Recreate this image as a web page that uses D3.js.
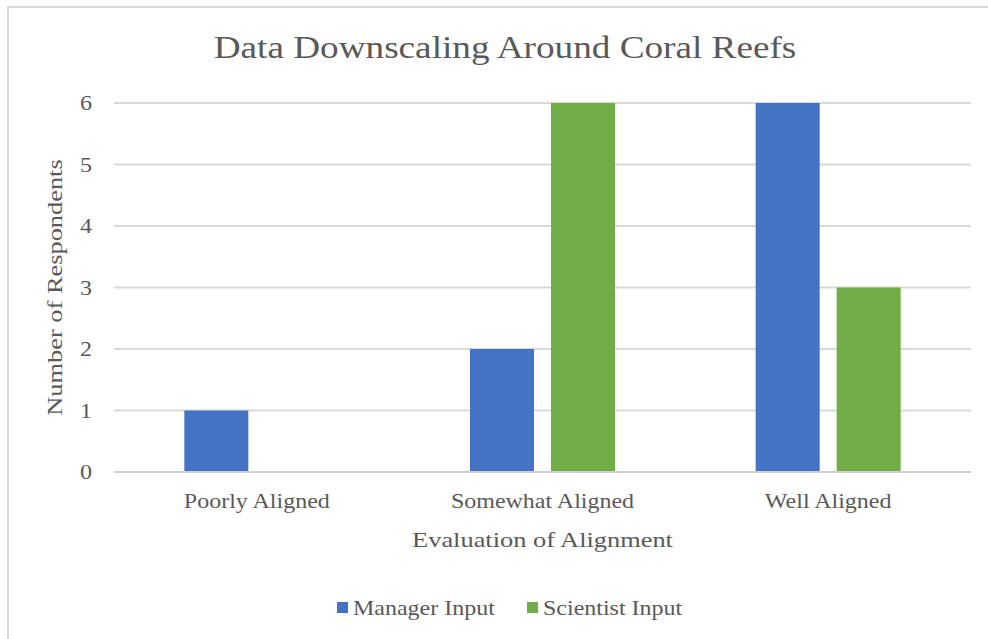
<!DOCTYPE html>
<html>
<head>
<meta charset="utf-8">
<script src="https://cdn.jsdelivr.net/npm/d3@7/dist/d3.min.js"></script>
<style>
  html, body { margin: 0; padding: 0; background: #ffffff; overflow: hidden; }
  svg { display: block; overflow: hidden; }
  text { font-family: "Liberation Serif", "Times New Roman", serif; fill: #595959; }
</style>
</head>
<body>
<svg id="chart" width="988" height="639"></svg>
<script>
// Survey results: how well downscaled data aligned with needs
const categories = ["Poorly Aligned", "Somewhat Aligned", "Well Aligned"];
const seriesNames = ["Manager Input", "Scientist Input"];
const managerInput = [1, 2, 6];
const scientistInput = [0, 6, 3];
const yTicks = [0, 1, 2, 3, 4, 5, 6];
const titleText = "Data Downscaling Around Coral Reefs";
const xTitle = "Evaluation of Alignment";
const yTitle = "Number of Respondents";

const colors = ["#4472C4", "#70AD47"];
const seriesValues = [managerInput, scientistInput];
const sx = 1.2; // glyphs are drawn slightly wide

const svg = d3.select("#chart");

// chart area frame (left and top edges fall inside the view)
const frame = svg.append("g")
  .attr("stroke", "#d9d9d9")
  .attr("stroke-width", 2);
frame.append("line").attr("x1", 8).attr("x2", 8).attr("y1", 6).attr("y2", 639);
frame.append("line").attr("x1", 7).attr("x2", 988).attr("y1", 7).attr("y2", 7);

const plot = { left: 114, right: 971, top: 103, bottom: 472 };

const x0 = d3.scaleBand()
  .domain(categories)
  .range([plot.left, plot.right])
  .padding(0);

const x1 = d3.scaleBand()
  .domain(seriesNames)
  .range([0, x0.bandwidth()])
  .paddingInner(0.21)
  .paddingOuter(0.868);

const y = d3.scaleLinear()
  .domain([0, 6])
  .range([plot.bottom, plot.top]);

// horizontal gridlines
svg.append("g")
  .selectAll("line")
  .data(yTicks)
  .join("line")
  .attr("x1", plot.left)
  .attr("x2", plot.right)
  .attr("y1", d => y(d))
  .attr("y2", d => y(d))
  .attr("stroke", "#d9d9d9")
  .attr("stroke-width", 2);

// bars
const rows = categories.map((c, i) => ({
  category: c,
  values: seriesNames.map((s, j) => ({ series: s, value: seriesValues[j][i], color: colors[j] }))
}));

svg.append("g")
  .selectAll("g")
  .data(rows)
  .join("g")
  .attr("transform", d => `translate(${x0(d.category)},0)`)
  .selectAll("rect")
  .data(d => d.values.filter(v => v.value > 0))
  .join("rect")
  .attr("x", d => x1(d.series))
  .attr("width", x1.bandwidth())
  .attr("y", d => y(d.value))
  .attr("height", d => y(0) - y(d.value))
  .attr("fill", d => d.color);

// baseline
svg.append("line")
  .attr("x1", plot.left).attr("x2", plot.right)
  .attr("y1", y(0)).attr("y2", y(0))
  .attr("stroke", "#d0d0d0")
  .attr("stroke-width", 2);

// y tick labels
svg.append("g")
  .selectAll("text")
  .data(yTicks)
  .join("text")
  .attr("transform", d => `translate(92,${y(d) + 7}) scale(${sx},1)`)
  .attr("text-anchor", "end")
  .attr("font-size", 20)
  .text(d => d3.format("d")(d));

// x category labels
svg.append("g")
  .selectAll("text")
  .data(categories)
  .join("text")
  .attr("transform", d => `translate(${x0(d) + x0.bandwidth() / 2},508) scale(${sx},1)`)
  .attr("text-anchor", "middle")
  .attr("font-size", 20)
  .text(d => d);

// axis titles
svg.append("text")
  .attr("transform", `translate(${(plot.left + plot.right) / 2},547) scale(${sx},1)`)
  .attr("text-anchor", "middle")
  .attr("font-size", 22)
  .text(xTitle);

svg.append("text")
  .attr("transform", `translate(62,${(plot.top + plot.bottom) / 2}) rotate(-90) scale(${sx},1)`)
  .attr("text-anchor", "middle")
  .attr("font-size", 22)
  .text(yTitle);

// chart title
svg.append("text")
  .attr("transform", `translate(505,58) scale(${sx},1)`)
  .attr("text-anchor", "middle")
  .attr("font-size", 31)
  .text(titleText);

// legend
const legendX = [337, 527];
const legend = svg.append("g")
  .selectAll("g")
  .data(seriesNames)
  .join("g")
  .attr("transform", (d, i) => `translate(${legendX[i]},0)`);

legend.append("rect")
  .attr("x", 0).attr("y", 602)
  .attr("width", 11).attr("height", 11)
  .attr("fill", (d, i) => colors[i]);

legend.append("text")
  .attr("transform", `translate(16,615) scale(${sx},1)`)
  .attr("font-size", 20)
  .text(d => d);
</script>
</body>
</html>
